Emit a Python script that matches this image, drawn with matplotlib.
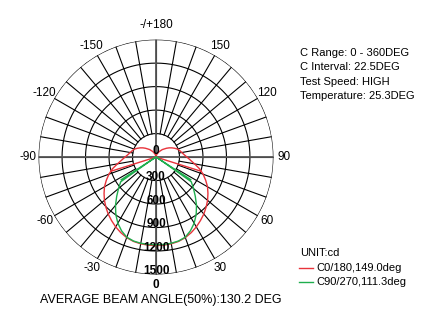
import numpy as np
import matplotlib

matplotlib.use("Agg")
import matplotlib.pyplot as plt

plt.rcParams["font.family"] = ["Liberation Sans", "DejaVu Sans"]

# ── data ──────────────────────────────────────────────────────────────────────
# gamma angles (deg) from nadir; C0 drawn on the right, C180 mirrored on the left
gamma = [0, 5, 10, 15, 20, 25, 30, 35, 40, 45, 50, 55, 60, 65, 70, 75, 80, 85, 90,
         95, 100, 105, 110, 115, 120, 125, 130, 140, 150, 160, 170, 180]
c0_cd = [1130, 1130, 1125, 1115, 1095, 1065, 1030, 990, 950, 905, 860, 810, 760, 700, 640, 575, 500, 440, 395,
         360, 335, 315, 295, 265, 235, 205, 175, 125, 80, 45, 18, 0]
c90_cd = [1120, 1120, 1118, 1110, 1090, 1040, 975, 895, 805, 710, 625, 550, 25, 0, 0, 0, 0, 0, 0,
          0, 0, 0, 0, 0, 0, 0, 0, 0, 0, 0, 0, 0]
# last sample each curve jumps back to (drawn as a radial stroke from the centre)
c0_return = (72.5, 600)
c90_return = (57.0, 530)

rings = [300, 600, 900, 1200, 1500]
angle_ticks = [0, 30, 60, 90, 120, 150, 180, -150, -120, -90, -60, -30]
angle_labels = ["0", "30", "60", "90", "120", "150", "-/+180", "-150", "-120", "-90", "-60", "-30"]

info_lines = ["C Range: 0 - 360DEG", "C Interval: 22.5DEG", "Test Speed: HIGH", "Temperature: 25.3DEG"]
legend_labels = ["C0/180,149.0deg", "C90/270,111.3deg"]
RED = "#e8333b"
GREEN = "#1fae4e"

fig = plt.figure(figsize=(4.36, 3.14), dpi=100)
ax = fig.add_axes([0.0883, 0.1258, 0.539, 0.748], projection="polar")
ax.set_theta_zero_location("S")
ax.set_theta_direction(1)
ax.set_ylim(0, rings[-1])
ax.set_axis_off()

# grid: rings, spokes from first ring outwards, main cross
t = np.linspace(0, 2 * np.pi, 361)
for r in rings:
    ax.plot(t, np.full_like(t, r), color="black", lw=0.8, zorder=1)
for a in range(0, 360, 10):
    ax.plot([np.deg2rad(a)] * 2, [rings[0], rings[-1]], color="black", lw=0.8, zorder=1)
for a in (0, 90, 180, 270):
    ax.plot([np.deg2rad(a)] * 2, [0, rings[-1]], color="#555555", lw=1.3, zorder=1)


def draw_curve(vals, ret, color):
    g = np.deg2rad(gamma)
    for sign in (1, -1):
        th = np.concatenate([sign * g, [sign * np.deg2rad(ret[0])] * 2])
        rr = np.concatenate([vals, [0, ret[1]]])
        ax.plot(th, rr, color=color, lw=1.0, zorder=3)


draw_curve(c0_cd, c0_return, RED)
draw_curve(c90_cd, c90_return, GREEN)

# ring value labels along the 0 direction
ax.text(0, 0, "0", ha="center", va="bottom", fontsize=8.5, fontweight="bold", zorder=5)
for r in rings:
    ax.text(0, r - 40, f"{r}", ha="center", va="center", fontsize=8.5, fontweight="bold", zorder=5)

# angle labels around the outside
for a, lab in zip(angle_ticks, angle_labels):
    rr = 1690 if a == 180 else 1640
    ax.text(np.deg2rad(a), rr, lab, ha="center", va="center", fontsize=8.5,
            fontweight="bold" if a == 0 else "normal", clip_on=False)

# info block on the right
for i, line in enumerate(info_lines):
    fig.text(300 / 436, 1 - (53 + i * 14.3) / 314, line, ha="left", va="center", fontsize=8)

fig.text(300 / 436, 1 - 253 / 314, "UNIT:cd", ha="left", va="center", fontsize=8)
for i, (lab, col) in enumerate(zip(legend_labels, [RED, GREEN])):
    y = 1 - (268 + i * 14.3) / 314
    fig.add_artist(plt.Line2D([299 / 436, 313 / 436], [y, y], color=col, lw=1.0))
    fig.text(316 / 436, y, lab, ha="left", va="center", fontsize=8)

fig.text(40 / 436, 1 - 300 / 314, "AVERAGE BEAM ANGLE(50%):130.2 DEG", ha="left", va="center", fontsize=9)

fig.savefig("out.png", dpi=100)
